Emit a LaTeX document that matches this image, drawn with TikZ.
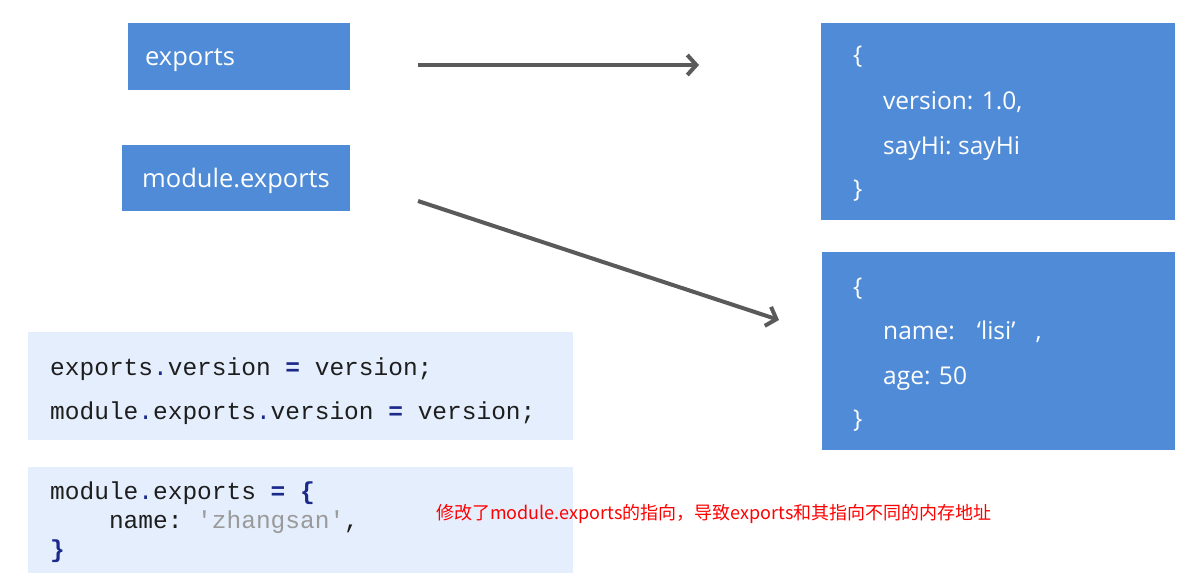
\documentclass[tikz,border=0pt]{standalone}
\usepackage{fontspec}
\setmainfont{Open Sans}
\setmonofont{Liberation Mono}
\newfontfamily\cjk{Noto Sans CJK SC}
\usetikzlibrary{arrows.meta}
\definecolor{boxblue}{HTML}{4F8BD6}
\definecolor{codebg}{HTML}{E4EEFC}
\definecolor{codefg}{HTML}{1E1E1E}
\definecolor{navy}{HTML}{1B2A8A}
\definecolor{strgray}{HTML}{9A9A9A}
\definecolor{arrowgray}{HTML}{5A5A5A}
\definecolor{notered}{HTML}{FF0000}
\newcommand{\opdot}{\textcolor{navy}{.}}
\begin{document}
\begin{tikzpicture}[x=1pt,y=-1pt,
  bluebox/.style={fill=boxblue,draw=none,inner sep=0pt,anchor=north west},
  codebox/.style={fill=codebg,draw=none,inner sep=0pt,anchor=north west},
  boxtxt/.style={text=white,inner sep=0pt,anchor=base west,font=\fontsize{24.5}{28}\selectfont},
  varname/.style={boxtxt,font=\fontsize{25.5}{30}\selectfont},
  codetxt/.style={text=codefg,inner sep=0pt,anchor=base west,font=\fontsize{24.5}{29}\ttfamily},
  pointer/.style={draw=arrowgray,line width=4pt,-{Straight Barb[length=9pt,width=20pt,line width=4pt]}}
]
\useasboundingbox (0,0) rectangle (1197,586);
\fill[white] (0,0) rectangle (1197,586);

% variable boxes
\node[bluebox,minimum width=222pt,minimum height=67pt] (exp) at (128,23) {};
\node[varname] (exptxt) at (145,66) {exports};
\node[bluebox,minimum width=228pt,minimum height=66pt] (mexp) at (122,145) {};
\node[varname] (mexptxt) at (142,187) {module.exports};

% object boxes
\node[bluebox,minimum width=354pt,minimum height=197pt] (obj1) at (821,23) {};
\node[boxtxt] (o1a) at (853,64) {\{};
\node[boxtxt] (o1b) at (883,110) {version: 1.0,};
\node[boxtxt] (o1c) at (883,154) {sayHi:\hspace{-2pt} sayHi};
\node[boxtxt] (o1d) at (853,197) {\}};

\node[bluebox,minimum width=353pt,minimum height=198pt] (obj2) at (822,252) {};
\node[boxtxt] (o2a) at (853,295) {\{};
\node[boxtxt] (o2b) at (883,339) {name:\hspace{22pt}‘lisi’\hspace{20pt},};
\node[boxtxt] (o2c) at (883,384) {age: 50};
\node[boxtxt] (o2d) at (853,427) {\}};

% code boxes
\node[codebox,minimum width=545pt,minimum height=108pt] (code1) at (28,332) {};
\node[codetxt] (c1a) at (50,375) {exports\opdot version \textcolor{navy}{\textbf{=}} version;};
\node[codetxt] (c1b) at (50,419) {module\opdot exports\opdot version \textcolor{navy}{\textbf{=}} version;};

\node[codebox,minimum width=545pt,minimum height=106pt] (code2) at (28,467) {};
\node[codetxt] (c2a) at (50,499) {module\opdot exports \textcolor{navy}{\textbf{= \{}}};
\node[codetxt] (c2b) at (50,528) {\hphantom{xxxx}name: \textcolor{strgray}{'zhangsan'},};
\node[codetxt] (c2c) at (50,557) {\textcolor{navy}{\textbf{\}}}};

% note
\node[inner sep=0pt,anchor=base west,text=notered,font=\cjk\fontsize{18}{20}\selectfont] (note) at (436,519) {修改了module.exports的指向，导致exports和其指向不同的内存地址};

% arrows
\coordinate (a1s) at (418,65);
\coordinate (a1e) at (699,65);
\coordinate (a2s) at (418,201);
\coordinate (a2e) at (779,320);
\draw[pointer] (a1s) -- (a1e);
\draw[pointer] (a2s) -- (a2e);
\end{tikzpicture}
\end{document}
